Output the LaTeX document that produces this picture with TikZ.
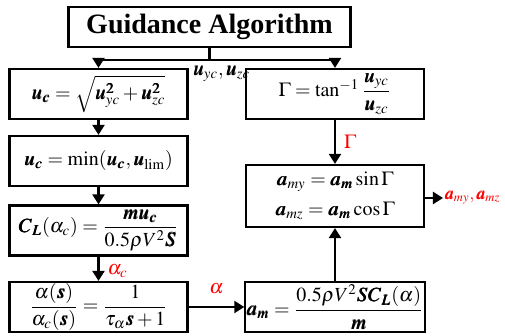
\documentclass[tikz,border=0pt]{standalone}
\usepackage{amsmath}
\usepackage{mathptmx}
\usepackage{bm}
\usepackage[no-math]{fontspec}
\setmainfont{Liberation Serif}
\usetikzlibrary{arrows.meta,positioning}

\begin{document}
\begin{tikzpicture}[x=0.5pt,y=-0.5pt,
  >={Triangle[length=5pt,width=6pt]},
  line width=1.1pt,
  block/.style={draw, line width=1.1pt, minimum width=89pt, minimum height=25pt, inner sep=0.5pt, align=center, font=\fontsize{10}{12}\selectfont},
  titlebox/.style={draw, line width=1.1pt, minimum width=141pt, minimum height=20pt, font=\fontsize{14}{17}\selectfont\bfseries},
  sig/.style={text=red, inner sep=1pt, font=\fontsize{10}{12}\selectfont},
]
\useasboundingbox (0,0) rectangle (505,336);

% title and the two branches below it
\node[titlebox] (title) at (209.5,27) {Guidance Algorithm};

% left column: command magnitude -> angle of attack
\node[block] (mag) at (98.5,94) {$\bm{u_c} = \sqrt{\bm{u_{yc}^2} + \bm{u_{zc}^2}}$};
\node[block] (sat) at (98.5,161) {$\bm{u_c} = \min(\bm{u_c}, \bm{u}_{\lim})$};
\node[block] (cl) at (98.5,230.5) {$\bm{C_L}(\alpha_c) = \dfrac{\bm{m u_c}}{0.5\rho V^2 \bm{S}}$};
\node[block] (lag) at (98.5,307) {$\dfrac{\alpha(\bm{s})}{\alpha_c(\bm{s})} = \dfrac{1}{\tau_\alpha \bm{s}+1}$};

% right column: direction and acceleration split
\node[block] (gam) at (335,94) {$\Gamma = \tan^{-1}\dfrac{\bm{u_{yc}}}{\bm{u_{zc}}}$};
\node[block, minimum height=31pt] (acc) at (335,196) {$\bm{a_{my}} = \bm{a_m}\sin\Gamma$\\[3pt] $\bm{a_{mz}} = \bm{a_m}\cos\Gamma$};
\node[block] (am) at (335,307) {$\bm{a_m} = \dfrac{0.5\rho V^2 \bm{S C_L}(\alpha)}{\bm{m}}$};

\node[anchor=north west, inner sep=0pt, font=\fontsize{10}{12}\selectfont] (uyz) at (192,65) {$\bm{u_{yc}},\bm{u_{zc}}$};
\node[sig, anchor=west, inner sep=0.3pt, font=\fontsize{8.5}{10}\selectfont] (out) at (443,198) {$\bm{a_{my}},\bm{a_{mz}}$};

% connectors
\draw (title.south) -- ++(0,12) coordinate (split);
\draw[->] (split) -| (mag.north);
\draw[->] (split) -| (gam.north);
\draw[->] (mag) -- (sat);
\draw[->] (sat) -- (cl);
\draw[->] (cl) -- node[sig, right=3pt, pos=0.6] (acl) {$\alpha_c$} (lag);
\draw[->] (lag) -- node[sig, above=5pt] (al) {$\alpha$} (am);
\draw[->] (gam) -- node[sig, right=3pt] (gl) {$\Gamma$} (acc);
\draw[->] (am) -- (acc);
\draw[->] (acc.east |- out.west) -- (out);

\end{tikzpicture}
\end{document}
